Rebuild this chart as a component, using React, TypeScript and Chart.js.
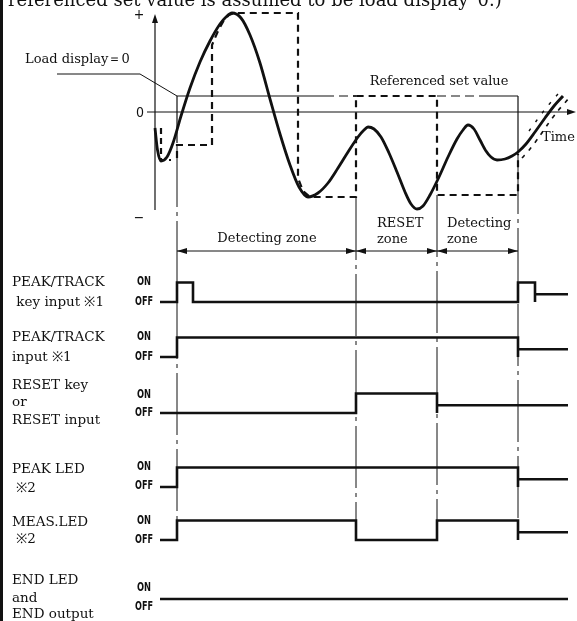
import React, { useEffect, useRef } from "react";
import { Chart, registerables } from "chart.js";

Chart.register(...registerables);

// ---------------- data ----------------
// event times on the common time axis
const EVENT_TIMES = [177, 356, 437, 518]; // detect start, reset on, reset off, detect end
const SIGNAL_END = 568;

// load waveform (time, load; load 0 = zero line)
const WAVE_TIME = [155, 157.5, 161, 167, 173, 181, 190, 200, 210, 220, 226, 232, 241, 250, 260, 270, 280, 290, 299, 308, 318, 328, 338, 348, 358, 364, 368, 374, 381, 389, 397, 405, 411, 417, 423, 430, 439, 448, 457, 463, 468, 474, 480, 486, 491, 497, 505, 512, 518, 526, 535, 545, 554, 563];
const WAVE_LOAD = [-16, -38, -49, -45, -31, -4, 24, 50, 71, 88, 95, 99, 94, 77, 49, 13, -22, -53, -75, -85, -81, -71, -56, -40, -25, -18, -15, -17, -25, -41, -60, -80, -92, -97, -94, -83, -65, -45, -27, -18, -13, -17, -28, -39, -45, -48, -47, -44, -40, -32, -20, -6, 6, 16];

// peak-hold trace (time, load)
const HOLD_A_TIME = [161, 161, 171];
const HOLD_A_LOAD = [-16, -48, -48];
const HOLD_B_TIME = [177, 177, 212, 212, 218, 224, 229, 234, 298, 298, 303, 310, 356, 356, 437, 437, 518, 518];
const HOLD_B_LOAD = [-46, -33, -33, 67, 81, 92, 97, 99, 99, -66, -79, -85, -85, 16, 16, -83, -83, -42];
// tracking marks either side of the rising end of the curve
const TRACK_R_TIME = [522, 530, 539, 548, 557, 569];
const TRACK_R_LOAD = [-46, -37, -25, -12, 0, 14];
const TRACK_L_TIME = [529, 537, 546, 552, 558, 563];
const TRACK_L_LOAD = [-19, -8, 4, 11, 18, 23];

const SET_VALUE = 16; // referenced set value (load)
const LOAD_DISPLAY_ZERO = 38;
const LOAD_AXIS = [-98, 98];

// digital signals: [time, level]  (1 = ON, 0 = OFF, 0.4 = undefined after end)
const SIG_KEY_INPUT: [number, number][] = [[160, 0], [177, 1], [193, 0], [518, 1], [535, 0], [535, 0.4]];
const SIG_PT_INPUT: [number, number][] = [[160, 0], [177, 1], [518, 0], [518, 0.4]];
const SIG_RESET: [number, number][] = [[160, 0], [356, 1], [437, 0], [437, 0.4]];
const SIG_PEAK_LED: [number, number][] = [[160, 0], [177, 1], [518, 0], [518, 0.4]];
const SIG_MEAS_LED: [number, number][] = [[160, 0], [177, 1], [356, 0], [437, 1], [518, 0], [518, 0.4]];
const SIG_END: [number, number][] = [[160, 0]];

const ROW_NAMES = [
  ["PEAK/TRACK", " key input ※1"],
  ["PEAK/TRACK", "input ※1"],
  ["RESET key", "or", "RESET input"],
  ["PEAK LED", " ※2"],
  ["MEAS.LED", " ※2"],
  ["END LED", "and", "END output"],
];
const ZONE_LABELS = [["Detecting zone"], ["RESET", "zone"], ["Detecting", "zone"]];

// ---------------- layout ----------------
const W = 577;
const H = 621;
const ZERO_PX = 112;
const ROW_OFF_PX = [302, 357, 413, 487, 540, 599];
const ROW_HIGH_PX = 19.5;
const ROW_LABEL_Y = [[282, 302], [337, 357], [385, 402, 420], [469, 488], [522, 539], [580, 598, 614]];
const ONOFF_Y = [[282, 302], [337, 357], [395, 413], [467, 486], [521, 540], [588, 607]];
const EVENT_LINE_SPAN = [[145, 521], [198, 540], [195, 540], [152, 540]];
const ZONE_ARROW_Y = 251;

const SERIF = "'DejaVu Serif', 'Liberation Serif', serif";
const COND = "'DejaVu Sans Condensed', 'Liberation Sans Narrow', 'DejaVu Sans', sans-serif";
const INK = "#111";

const pts = (xs: number[], ys: number[]) => xs.map((x, i) => ({ x, y: ys[i] }));

function signalPoints(changes: [number, number][], row: number) {
  const off = ROW_OFF_PX[row];
  const lv = (l: number) => off - l * ROW_HIGH_PX;
  const out: { x: number; y: number }[] = [{ x: changes[0][0], y: lv(changes[0][1]) }];
  let prev = changes[0][1];
  for (let i = 1; i < changes.length; i++) {
    const [t, l] = changes[i];
    out.push({ x: t, y: lv(prev) });
    out.push({ x: t, y: lv(l) });
    prev = l;
  }
  out.push({ x: SIGNAL_END, y: lv(prev) });
  return out;
}

const DASH_DOT = [62, 5, 4, 5];

export default function App() {
  const ref = useRef<HTMLCanvasElement | null>(null);

  useEffect(() => {
    document.body.style.margin = "0";
    const canvas = ref.current;
    if (!canvas) return;

    const base = { pointRadius: 0, fill: false, tension: 0, borderColor: INK, borderCapStyle: "butt" as const };
    const loadDs = (data: any[], extra: any) => ({ ...base, yAxisID: "load", data, ...extra });
    const pxDs = (data: any[], extra: any) => ({ ...base, yAxisID: "y", data, ...extra });

    const datasets: any[] = [];
    // frame line
    datasets.push(pxDs([{ x: 1.5, y: 0 }, { x: 1.5, y: H }], { borderWidth: 3 }));
    // axes
    datasets.push(loadDs([{ x: 155, y: LOAD_AXIS[0] }, { x: 155, y: LOAD_AXIS[1] - 4 }], { borderWidth: 1.2 }));
    datasets.push(loadDs([{ x: 147, y: 0 }, { x: 570, y: 0 }], { borderWidth: 1.2 }));
    // set value line pieces
    datasets.push(loadDs([{ x: 177, y: SET_VALUE }, { x: 325, y: SET_VALUE }], { borderWidth: 1.2 }));
    datasets.push(loadDs([{ x: 325, y: SET_VALUE }, { x: 356, y: SET_VALUE }], { borderWidth: 1.2, borderDash: [9, 5] }));
    datasets.push(loadDs([{ x: 437, y: SET_VALUE }, { x: 480, y: SET_VALUE }], { borderWidth: 1.2, borderDash: [9, 5] }));
    datasets.push(loadDs([{ x: 480, y: SET_VALUE }, { x: EVENT_TIMES[3], y: SET_VALUE }], { borderWidth: 1.2 }));
    datasets.push(loadDs([{ x: EVENT_TIMES[0], y: SET_VALUE }, { x: EVENT_TIMES[0], y: -31 }], { borderWidth: 1.2 }));
    datasets.push(loadDs([{ x: EVENT_TIMES[3], y: SET_VALUE }, { x: EVENT_TIMES[3], y: -40 }], { borderWidth: 1.2 }));
    // load display = 0 leader
    datasets.push(loadDs([{ x: 57, y: LOAD_DISPLAY_ZERO }, { x: 140, y: LOAD_DISPLAY_ZERO }, { x: EVENT_TIMES[0], y: SET_VALUE }], { borderWidth: 1 }));
    // peak hold (dashed)
    datasets.push(loadDs(pts(HOLD_A_TIME, HOLD_A_LOAD), { borderWidth: 2.2, borderDash: [6, 4] }));
    datasets.push(loadDs(pts(HOLD_B_TIME, HOLD_B_LOAD), { borderWidth: 2.2, borderDash: [7, 5] }));
    datasets.push(loadDs(pts(TRACK_R_TIME, TRACK_R_LOAD), { borderWidth: 1.6, borderDash: [4, 6], tension: 0.3 }));
    datasets.push(loadDs(pts(TRACK_L_TIME, TRACK_L_LOAD), { borderWidth: 1.4, borderDash: [3, 8], tension: 0.3 }));
    // waveform
    datasets.push(loadDs(pts(WAVE_TIME, WAVE_LOAD), { borderWidth: 2.8, cubicInterpolationMode: "monotone", borderJoinStyle: "round" }));
    // event lines
    EVENT_TIMES.forEach((t, i) => {
      datasets.push(pxDs([{ x: t, y: EVENT_LINE_SPAN[i][0] }, { x: t, y: EVENT_LINE_SPAN[i][1] }], { borderWidth: 1, borderDash: DASH_DOT }));
    });
    // zone arrow line
    datasets.push(pxDs([{ x: EVENT_TIMES[0], y: ZONE_ARROW_Y }, { x: EVENT_TIMES[3], y: ZONE_ARROW_Y }], { borderWidth: 1 }));
    // digital signals
    [SIG_KEY_INPUT, SIG_PT_INPUT, SIG_RESET, SIG_PEAK_LED, SIG_MEAS_LED, SIG_END].forEach((s, r) => {
      datasets.push(pxDs(signalPoints(s, r), { borderWidth: 2.6, borderJoinStyle: "miter" }));
    });

    const overlay = {
      id: "overlay",
      afterDatasetsDraw(chart: any) {
        const { ctx } = chart;
        const sx = chart.scales.x;
        const sy = chart.scales.y;
        const sl = chart.scales.load;
        const X = (v: number) => sx.getPixelForValue(v);
        const Y = (v: number) => sy.getPixelForValue(v);
        const L = (v: number) => sl.getPixelForValue(v);
        ctx.save();
        ctx.fillStyle = INK;
        const tri = (tx: number, ty: number, dx: number, dy: number, len: number, hw: number) => {
          ctx.beginPath();
          ctx.moveTo(tx, ty);
          ctx.lineTo(tx - dx * len - dy * hw, ty - dy * len + dx * hw);
          ctx.lineTo(tx - dx * len + dy * hw, ty - dy * len - dx * hw);
          ctx.closePath();
          ctx.fill();
        };
        // axis arrows
        tri(X(155), L(LOAD_AXIS[1]), 0, -1, 9, 3);
        tri(X(576), L(0), 1, 0, 9, 3);
        // zone arrows
        for (let i = 0; i < 3; i++) {
          const a = X(EVENT_TIMES[i]);
          const b = X(EVENT_TIMES[i + 1]);
          const y = Y(ZONE_ARROW_Y);
          tri(a, y, -1, 0, 10, 3);
          tri(b, y, 1, 0, 10, 3);
        }
        // small tick at top of reset hold
        ctx.lineWidth = 1.5;
        ctx.strokeStyle = INK;
        ctx.beginPath();
        ctx.moveTo(X(353), L(SET_VALUE));
        ctx.lineTo(X(359), L(SET_VALUE));
        ctx.stroke();

        const text = (s: string, x: number, y: number, font: string, align: CanvasTextAlign = "left", maxW?: number, base: CanvasTextBaseline = "middle") => {
          ctx.font = font;
          ctx.textAlign = align;
          ctx.textBaseline = base;
          if (maxW) ctx.fillText(s, x, y, maxW);
          else ctx.fillText(s, x, y);
        };
        // header (cut off)
        text("referenced set value is assumed to be load display\u201D0.)", X(8), Y(6), `18px ${SERIF}`, "left", 537, "alphabetic");
        // axis marks
        text("+", X(139), Y(15), `14px ${COND}`, "center");
        text("\u2212", X(139), Y(218), `14px ${COND}`, "center");
        text("0", X(140), Y(113), `14px ${COND}`, "center", 8);
        text("Load display\uFF1D0", X(25), Y(60), `13px ${SERIF}`, "left", 108);
        text("Referenced set value", X(439), Y(82), `13px ${SERIF}`, "center", 142);
        text("Time", X(542), Y(138), `13px ${SERIF}`, "left");
        // zone labels
        text(ZONE_LABELS[0][0], X(267), Y(239), `13px ${SERIF}`, "center", 100);
        text(ZONE_LABELS[1][0], X(377), Y(224), `13px ${SERIF}`, "left");
        text(ZONE_LABELS[1][1], X(377), Y(240), `13px ${SERIF}`, "left");
        text(ZONE_LABELS[2][0], X(447), Y(224), `13px ${SERIF}`, "left", 66);
        text(ZONE_LABELS[2][1], X(447), Y(240), `13px ${SERIF}`, "left");
        // row labels
        ROW_NAMES.forEach((lines, r) => {
          lines.forEach((s, k) => {
            text(s, X(12), Y(ROW_LABEL_Y[r][k]), `13.5px ${SERIF}`, "left");
          });
          text("ON", X(137), Y(ONOFF_Y[r][0]), `600 13px ${COND}`, "left", 14);
          text("OFF", X(135), Y(ONOFF_Y[r][1]), `600 13px ${COND}`, "left", 18);
        });
        ctx.restore();
      },
    };

    const chart = new Chart(canvas, {
      type: "line",
      data: { datasets },
      options: {
        animation: false,
        responsive: false,
        maintainAspectRatio: false,
        parsing: false as any,
        normalized: true,
        layout: { padding: 0, autoPadding: false } as any,
        plugins: { legend: { display: false }, tooltip: { enabled: false } },
        events: [],
        scales: {
          x: { type: "linear", min: 0, max: W, display: false },
          y: { type: "linear", min: 0, max: H, reverse: true, display: false },
          load: { type: "linear", min: ZERO_PX - H, max: ZERO_PX, display: false },
        },
      } as any,
      plugins: [overlay],
    });
    return () => chart.destroy();
  }, []);

  return (
    <div style={{ width: W, height: H, background: "#fff" }}>
      <canvas ref={ref} width={W} height={H} style={{ display: "block", width: W, height: H }} />
    </div>
  );
}
